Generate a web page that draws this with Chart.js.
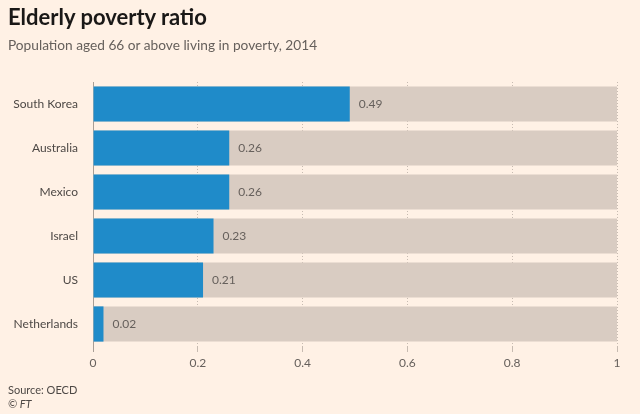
<!DOCTYPE html>
<html>
<head>
<meta charset="utf-8">
<script src="https://cdn.jsdelivr.net/npm/chart.js@4.4.1/dist/chart.umd.min.js"></script>
<style>
  html, body { margin: 0; padding: 0; background: #fff1e5; }
  #wrap { position: relative; width: 640px; height: 414px; font-family: Lato, sans-serif; }
  #chart { position: absolute; left: 0; top: 0; }
  .title { position: absolute; left: 8px; top: 3px; font-size: 22px; font-weight: bold; color: #1a1817; }
  .sub { position: absolute; left: 8px; top: 36px; font-size: 13.7px; color: #66605c; }
  .src { position: absolute; left: 8px; top: 383px; font-size: 11px; color: #4d4845; line-height: 14px; }
</style>
</head>
<body>
<div id="wrap">
  <canvas id="chart" width="640" height="414"></canvas>
  <div class="title">Elderly poverty ratio</div>
  <div class="sub">Population aged 66 or above living in poverty, 2014</div>
  <div class="src">Source: OECD<br><i>© FT</i></div>
</div>
<script>
const countries = ['South Korea', 'Australia', 'Mexico', 'Israel', 'US', 'Netherlands'];
const ratio = [0.49, 0.26, 0.26, 0.23, 0.21, 0.02];
const fullBar = [1, 1, 1, 1, 1, 1];
const xTicks = [0, 0.2, 0.4, 0.6, 0.8, 1];

const valueLabels = {
    id: 'valueLabels',
    afterDatasetsDraw(chart) {
        const ctx = chart.ctx;
        const meta = chart.getDatasetMeta(0);
        ctx.save();
        ctx.font = '12px Lato, sans-serif';
        ctx.fillStyle = '#66605c';
        ctx.textBaseline = 'middle';
        meta.data.forEach((bar, i) => {
            ctx.fillText(ratio[i].toFixed(2), bar.x + 9, bar.y);
        });
        ctx.restore();
    }
};

new Chart(document.getElementById('chart'), {
    type: 'bar',
    data: {
        labels: countries,
        datasets: [{
            data: ratio,
            backgroundColor: '#1f8bc9',
            grouped: false,
            order: 0
        }, {
            data: fullBar,
            backgroundColor: '#d9ccc2',
            grouped: false,
            order: 1
        }]
    },
    options: {
        indexAxis: 'y',
        responsive: false,
        animation: false,
        barPercentage: 0.8,
        categoryPercentage: 1,
        layout: { padding: { top: 82, right: 23, bottom: 40, left: 0 } },
        plugins: { legend: { display: false }, tooltip: { enabled: false } },
        scales: {
            x: {
                min: 0,
                max: 1,
                afterBuildTicks: (scale) => { scale.ticks = xTicks.map(v => ({ value: v })); },
                afterFit: (scale) => { scale.height = 28; },
                grid: {
                    color: (c) => c.tick && c.tick.value === 0 ? 'rgba(0,0,0,0)' : '#c7bbb1',
                    tickLength: 6,
                    tickColor: (c) => c.tick && c.tick.value === 0 ? '#a89e95' : '#c7bbb1'
                },
                border: { display: false, dash: [1, 2] },
                ticks: {
                    color: '#66605c',
                    font: { family: 'Lato', size: 12 },
                    padding: 4,
                    callback: (v) => String(v)
                }
            },
            y: {
                afterFit: (scale) => { scale.width = 93; },
                grid: { display: false },
                border: { display: true, color: '#a89e95', width: 1 },
                ticks: {
                    color: '#4d4845',
                    font: { family: 'Lato', size: 12 },
                    padding: 7
                }
            }
        }
    },
    plugins: [valueLabels]
});
</script>
</body>
</html>
